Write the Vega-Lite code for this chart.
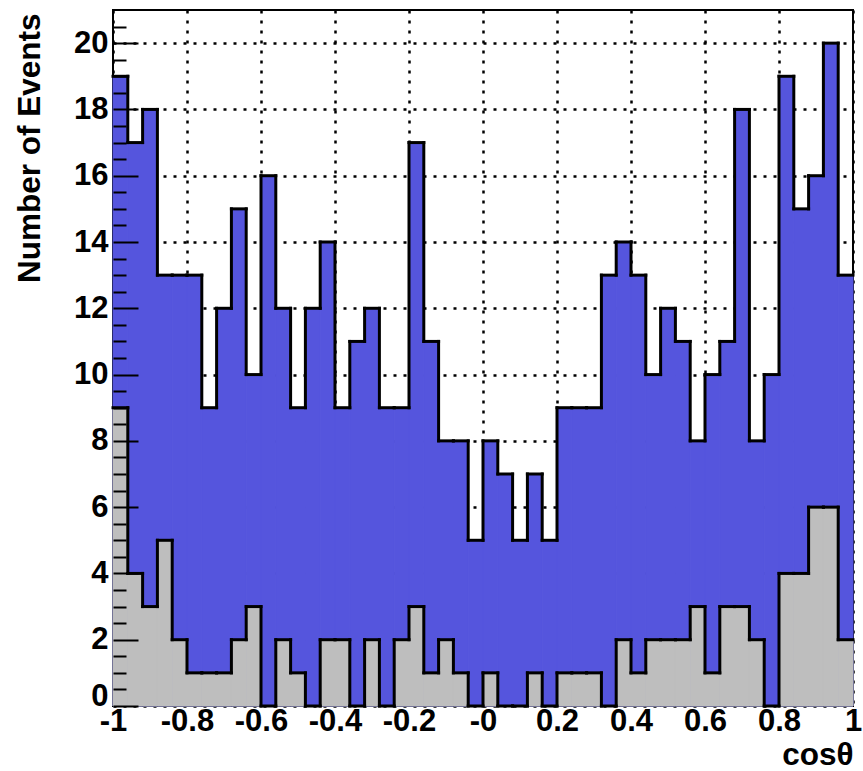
{
  "$schema": "https://vega.github.io/schema/vega-lite/v6.json",
  "width": 740,
  "height": 696,
  "autosize": {"type": "none"},
  "padding": {"left": 113, "top": 10, "right": 10, "bottom": 65},
  "background": "white",
  "config": {
    "view": {"stroke": "black", "strokeWidth": 2},
    "axis": {
      "domain": false,
      "labelFont": "Liberation Sans",
      "labelFontWeight": "bold",
      "labelFontSize": 31,
      "labelColor": "black",
      "titleFont": "Liberation Sans",
      "titleFontWeight": "bold",
      "titleFontSize": 31.5,
      "titleColor": "black",
      "gridColor": "black",
      "gridDash": [3, 7],
      "gridWidth": 2.5,
      "gridOpacity": 1,
      "tickColor": "black",
      "tickWidth": 2,
      "labelFlush": false,
      "labelOverlap": false
    }
  },
  "data": {
    "values": [
      {"lo": -1.00, "hi": -0.96, "blue": 19, "gray": 9},
      {"lo": -0.96, "hi": -0.92, "blue": 17, "gray": 4},
      {"lo": -0.92, "hi": -0.88, "blue": 18, "gray": 3},
      {"lo": -0.88, "hi": -0.84, "blue": 13, "gray": 5},
      {"lo": -0.84, "hi": -0.80, "blue": 13, "gray": 2},
      {"lo": -0.80, "hi": -0.76, "blue": 13, "gray": 1},
      {"lo": -0.76, "hi": -0.72, "blue": 9, "gray": 1},
      {"lo": -0.72, "hi": -0.68, "blue": 12, "gray": 1},
      {"lo": -0.68, "hi": -0.64, "blue": 15, "gray": 2},
      {"lo": -0.64, "hi": -0.60, "blue": 10, "gray": 3},
      {"lo": -0.60, "hi": -0.56, "blue": 16, "gray": 0},
      {"lo": -0.56, "hi": -0.52, "blue": 12, "gray": 2},
      {"lo": -0.52, "hi": -0.48, "blue": 9, "gray": 1},
      {"lo": -0.48, "hi": -0.44, "blue": 12, "gray": 0},
      {"lo": -0.44, "hi": -0.40, "blue": 14, "gray": 2},
      {"lo": -0.40, "hi": -0.36, "blue": 9, "gray": 2},
      {"lo": -0.36, "hi": -0.32, "blue": 11, "gray": 0},
      {"lo": -0.32, "hi": -0.28, "blue": 12, "gray": 2},
      {"lo": -0.28, "hi": -0.24, "blue": 9, "gray": 0},
      {"lo": -0.24, "hi": -0.20, "blue": 9, "gray": 2},
      {"lo": -0.20, "hi": -0.16, "blue": 17, "gray": 3},
      {"lo": -0.16, "hi": -0.12, "blue": 11, "gray": 1},
      {"lo": -0.12, "hi": -0.08, "blue": 8, "gray": 2},
      {"lo": -0.08, "hi": -0.04, "blue": 8, "gray": 1},
      {"lo": -0.04, "hi": 0.00, "blue": 5, "gray": 0},
      {"lo": 0.00, "hi": 0.04, "blue": 8, "gray": 1},
      {"lo": 0.04, "hi": 0.08, "blue": 7, "gray": 0},
      {"lo": 0.08, "hi": 0.12, "blue": 5, "gray": 0},
      {"lo": 0.12, "hi": 0.16, "blue": 7, "gray": 1},
      {"lo": 0.16, "hi": 0.20, "blue": 5, "gray": 0},
      {"lo": 0.20, "hi": 0.24, "blue": 9, "gray": 1},
      {"lo": 0.24, "hi": 0.28, "blue": 9, "gray": 1},
      {"lo": 0.28, "hi": 0.32, "blue": 9, "gray": 1},
      {"lo": 0.32, "hi": 0.36, "blue": 13, "gray": 0},
      {"lo": 0.36, "hi": 0.40, "blue": 14, "gray": 2},
      {"lo": 0.40, "hi": 0.44, "blue": 13, "gray": 1},
      {"lo": 0.44, "hi": 0.48, "blue": 10, "gray": 2},
      {"lo": 0.48, "hi": 0.52, "blue": 12, "gray": 2},
      {"lo": 0.52, "hi": 0.56, "blue": 11, "gray": 2},
      {"lo": 0.56, "hi": 0.60, "blue": 8, "gray": 3},
      {"lo": 0.60, "hi": 0.64, "blue": 10, "gray": 1},
      {"lo": 0.64, "hi": 0.68, "blue": 11, "gray": 3},
      {"lo": 0.68, "hi": 0.72, "blue": 18, "gray": 3},
      {"lo": 0.72, "hi": 0.76, "blue": 8, "gray": 2},
      {"lo": 0.76, "hi": 0.80, "blue": 10, "gray": 0},
      {"lo": 0.80, "hi": 0.84, "blue": 19, "gray": 4},
      {"lo": 0.84, "hi": 0.88, "blue": 15, "gray": 4},
      {"lo": 0.88, "hi": 0.92, "blue": 16, "gray": 6},
      {"lo": 0.92, "hi": 0.96, "blue": 20, "gray": 6},
      {"lo": 0.96, "hi": 1.00, "blue": 13, "gray": 2}
    ]
  },
  "resolve": {"scale": {"y": "independent"}, "axis": {"y": "independent"}},
  "layer": [
    {
      "mark": {"type": "rect", "color": "#5555dd", "stroke": "#5555dd", "strokeWidth": 1},
      "encoding": {
        "x": {
          "field": "lo", "type": "quantitative",
          "scale": {"domain": [-1, 1], "nice": false, "zero": false},
          "axis": {
            "values": [-1, -0.8, -0.6, -0.4, -0.2, 0, 0.2, 0.4, 0.6, 0.8, 1],
            "labelExpr": "datum.value === 0 ? '-0' : '' + datum.value",
            "grid": true,
            "ticks": false,
            "labelPadding": 0,
            "labelBaseline": "top",
            "title": "cosθ",
            "titleX": 740,
            "titleY": 58,
            "titleAlign": "right",
            "titleBaseline": "alphabetic",
            "zindex": 0
          }
        },
        "x2": {"field": "hi"},
        "y": {
          "field": "blue", "type": "quantitative",
          "scale": {"domain": [0, 21], "nice": false},
          "axis": {
            "orient": "left",
            "values": [0, 2, 4, 6, 8, 10, 12, 14, 16, 18, 20],
            "grid": true,
            "ticks": false,
            "labelPadding": 5,
            "labelOffset": {"condition": {"test": "datum.value === 0", "value": -10}, "value": 0},
            "title": "Number of Events",
            "titleAngle": 270,
            "titleX": -74,
            "titleY": 3,
            "titleAlign": "right",
            "titleBaseline": "alphabetic",
            "zindex": 0
          }
        },
        "y2": {"datum": 0}
      }
    },
    {
      "mark": {"type": "rule", "color": "black", "strokeWidth": 3, "strokeCap": "square"},
      "encoding": {
        "x": {"field": "lo", "type": "quantitative"},
        "x2": {"field": "hi"},
        "y": {
          "field": "blue", "type": "quantitative",
          "scale": {"domain": [0, 21], "nice": false},
          "axis": {
            "orient": "left",
            "values": [0.5, 1, 1.5, 2.5, 3, 3.5, 4.5, 5, 5.5, 6.5, 7, 7.5, 8.5, 9, 9.5, 10.5, 11, 11.5, 12.5, 13, 13.5, 14.5, 15, 15.5, 16.5, 17, 17.5, 18.5, 19, 19.5, 20.5],
            "grid": false,
            "labels": false,
            "ticks": true,
            "tickSize": -13,
            "title": null,
            "zindex": 1
          }
        }
      }
    },
    {
      "transform": [
        {"window": [{"op": "lag", "field": "blue", "as": "prevBlue"}], "sort": [{"field": "lo"}]},
        {"filter": "datum.prevBlue != null"}
      ],
      "mark": {"type": "rule", "color": "black", "strokeWidth": 3, "strokeCap": "square"},
      "encoding": {
        "x": {"field": "lo", "type": "quantitative"},
        "y": {"field": "prevBlue", "type": "quantitative", "scale": {"domain": [0, 21], "nice": false}, "axis": null},
        "y2": {"field": "blue"}
      }
    },
    {
      "mark": {"type": "rect", "color": "#bebebe", "stroke": "#bebebe", "strokeWidth": 1},
      "encoding": {
        "x": {"field": "lo", "type": "quantitative"},
        "x2": {"field": "hi"},
        "y": {
          "field": "gray", "type": "quantitative",
          "scale": {"domain": [0, 21], "nice": false},
          "axis": {
            "orient": "left",
            "values": [0, 2, 4, 6, 8, 10, 12, 14, 16, 18, 20],
            "grid": false,
            "labels": false,
            "ticks": true,
            "tickSize": -25,
            "title": null,
            "zindex": 1
          }
        },
        "y2": {"datum": 0}
      }
    },
    {
      "mark": {"type": "rule", "color": "black", "strokeWidth": 3, "strokeCap": "square"},
      "encoding": {
        "x": {"field": "lo", "type": "quantitative"},
        "x2": {"field": "hi"},
        "y": {"field": "gray", "type": "quantitative", "scale": {"domain": [0, 21], "nice": false}, "axis": null}
      }
    },
    {
      "transform": [
        {"window": [{"op": "lag", "field": "gray", "as": "prevGray"}], "sort": [{"field": "lo"}]},
        {"filter": "datum.prevGray != null"}
      ],
      "mark": {"type": "rule", "color": "black", "strokeWidth": 3, "strokeCap": "square"},
      "encoding": {
        "x": {"field": "lo", "type": "quantitative"},
        "y": {"field": "prevGray", "type": "quantitative", "scale": {"domain": [0, 21], "nice": false}, "axis": null},
        "y2": {"field": "gray"}
      }
    }
  ]
}
